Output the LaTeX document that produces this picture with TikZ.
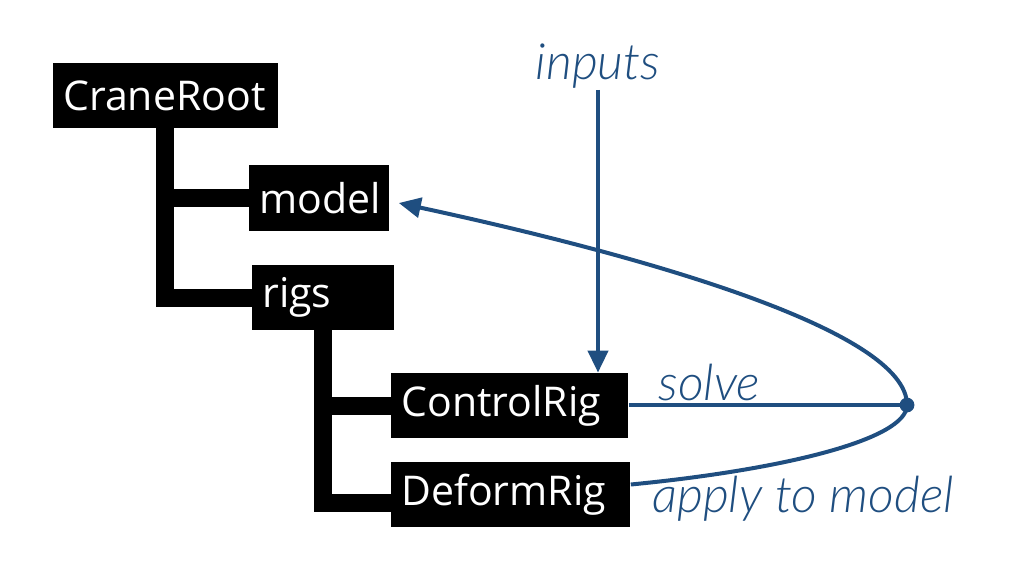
\documentclass[tikz,border=0pt]{standalone}
\usepackage{fontspec}
\setmainfont{Open Sans}
\newfontfamily\labelfont{Lato Light Italic}
\usetikzlibrary{arrows.meta, positioning, calc}
\definecolor{flowblue}{RGB}{31,78,128}
\tikzstyle{item} = [rectangle, fill=black, text=white, anchor=west, align=left, inner xsep=5pt, minimum height=32.5pt, font=\fontsize{20.5}{23}\selectfont]
\tikzstyle{tree} = [line width=9pt, black]
\tikzstyle{flow} = [line width=2pt, flowblue, -{Triangle[length=11pt, width=10pt]}]
\tikzstyle{flowlabel} = [text=flowblue, inner sep=0pt, font=\labelfont\fontsize{25}{28}\selectfont]

\begin{document}
\begin{tikzpicture}[x=0.5pt, y=-0.5pt]
\useasboundingbox (0,0) rectangle (1020,572);

% Hierarchy boxes
\node[item, text width=102.5pt] (craneroot) at (53,95.5) {CraneRoot};
\node[item, text width=60pt] (model) at (249,198) {model};
\node[item, text width=61pt] (rigs) at (252,297.5) {rigs};
\node[item, text width=108.5pt] (controlrig) at (391,405.5) {ControlRig};
\node[item, text width=109.5pt] (deformrig) at (391,494.5) {DeformRig};

% Tree branches
\coordinate (trunk1) at (165,128);
\draw[tree] (trunk1) |- (rigs.west);
\draw[tree] (trunk1 |- model.west) -- (model.west);
\coordinate (trunk2) at (323,330);
\draw[tree] (trunk2) |- ($(deformrig.west)+(0,-4pt)$);
\draw[tree] (trunk2 |- controlrig.west) -- (controlrig.west);

% Inputs
\node[flowlabel, anchor=base] (inputs) at (598,80) {inputs};
\coordinate (inputsend) at (598,90);
\draw[flow] (inputsend) -- (inputsend |- controlrig.north);

% Solve and apply loop
\coordinate (junction) at (907,405);
\draw[line width=2pt, flowblue] (controlrig.east |- junction) -- (junction);
\draw[line width=2pt, flowblue] ($(deformrig.east)+(0,5pt)$) .. controls (780,470) and (907,440) .. (junction);
\draw[flow] (junction) .. controls (907,330) and (640,255) .. ($(model.east)+(4.5pt,-2.5pt)$);
\fill[flowblue] (junction) circle (3.7pt);

% Labels
\node[flowlabel, anchor=base west] (solve) at (658,400) {solve};
\node[flowlabel, anchor=base west] (apply) at (652,512) {apply to model};

\end{tikzpicture}
\end{document}
